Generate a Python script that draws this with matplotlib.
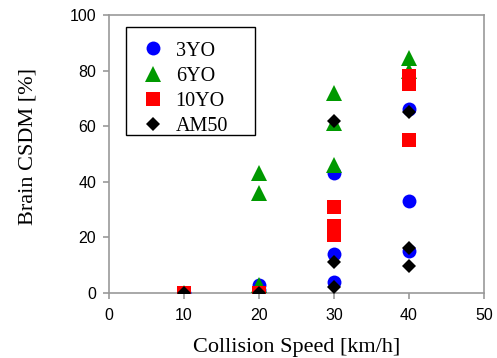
import matplotlib
matplotlib.use("Agg")
import matplotlib.pyplot as plt
from matplotlib.patches import Rectangle

x3 = [10, 20, 20, 30, 30, 30, 40, 40, 40]
y3 = [0, 3, 1, 43, 14, 4, 66, 33, 15]
x6 = [10, 20, 20, 20, 30, 30, 30, 40, 40]
y6 = [0, 43, 36, 3, 72, 61, 46, 84.5, 80]
x10 = [10, 20, 30, 30, 30, 40, 40, 40]
y10 = [0, 0, 31, 24, 21, 78, 75, 55]
xam = [10, 20, 30, 30, 30, 40, 40, 40]
yam = [0, 0, 62, 11, 2, 65, 16, 9.5]

xticks = [0, 10, 20, 30, 40, 50]
yticks = [0, 20, 40, 60, 80, 100]

fig = plt.figure(figsize=(4.97, 3.58), dpi=100)
ax = fig.add_axes([0.219, 0.182, 0.755, 0.776])

ms = 10
ax.plot(x3, y3, 'o', color='#0000ff', ms=ms, mew=0, label='3YO', zorder=3)
ax.plot(x6, y6, '^', color='#009900', ms=ms + 1, mew=0, label='6YO', zorder=4)
ax.plot(x10, y10, 's', color='#ff0000', ms=ms - 0.5, mew=0, label='10YO', zorder=5)
ax.plot(xam, yam, 'D', color='#000000', ms=ms - 2.5, mew=0, label='AM50', zorder=6)

ax.set_xlim(0, 50)
ax.set_ylim(0, 100)
ax.set_xticks(xticks)
ax.set_yticks(yticks)
for s in ax.spines.values():
    s.set_color('#999999')
    s.set_linewidth(1.2)
ax.tick_params(color='#999999', width=1.2, length=4, direction='out',
               labelsize=11.5, labelcolor='black')
ax.tick_params(axis='y', pad=5)
ax.tick_params(axis='x', pad=7)
for lab in ax.get_xticklabels() + ax.get_yticklabels():
    lab.set_fontfamily('Liberation Sans')

ax.set_xlabel('Collision Speed [km/h]', fontfamily='Liberation Serif', fontsize=16,
              labelpad=11)
ax.set_ylabel('Brain CSDM [%]', fontfamily='Liberation Serif', fontsize=16)
ax.yaxis.set_label_coords(-0.19, 0.525)

leg = ax.legend(loc='upper left', bbox_to_anchor=(0.06, 0.905), frameon=False,
                prop={'family': 'Liberation Serif', 'size': 14.5},
                handlelength=2.1, handletextpad=0.1, labelspacing=0.3,
                borderpad=0.0, borderaxespad=0)
ax.add_patch(Rectangle((0.045, 0.568), 0.344, 0.389, transform=ax.transAxes,
                       fill=False, edgecolor='black', linewidth=1.0, zorder=10,
                       clip_on=False))

fig.savefig('out.png', dpi=100)
